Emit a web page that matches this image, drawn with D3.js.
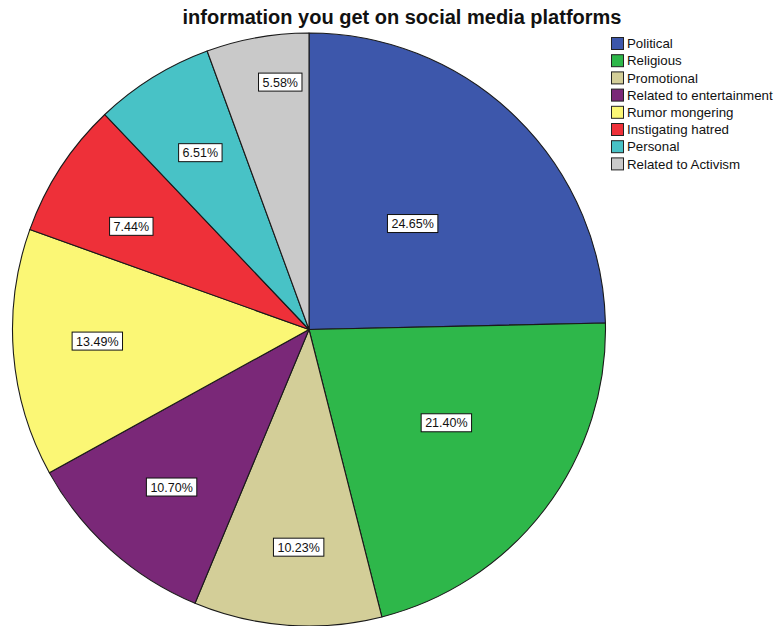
<!DOCTYPE html>
<html>
<head>
<meta charset="utf-8">
<script src="https://cdn.jsdelivr.net/npm/d3@7"></script>
<style>
  html, body { margin: 0; padding: 0; background: #fff; }
  svg { display: block; font-family: Arial, "Liberation Sans", sans-serif; }
</style>
</head>
<body>
<svg id="chart" width="777" height="626"></svg>
<script>
// Share of each information type (percent)
const categories = ["Political", "Religious", "Promotional", "Related to entertainment",
  "Rumor mongering", "Instigating hatred", "Personal", "Related to Activism"];
const percents = [24.65, 21.40, 10.23, 10.70, 13.49, 7.44, 6.51, 5.58];
const colors = ["#3d57ab", "#2eb74a", "#d3ce98", "#7a2878", "#fbf775", "#ee3039", "#48c2c6", "#c9c9c9"];
// placement of each percentage box: distance out (fraction of radius)
// and position across the slice (0 = start edge, 1 = end edge)
const labelRadius = [0.50, 0.56, 0.735, 0.705, 0.715, 0.693, 0.70, 0.84];
const labelSpan = [0.50, 0.46, 0.46, 0.48, 0.53, 0.39, 0.51, 0.67];
const title = "information you get on social media platforms";

const svg = d3.select("#chart");
const cx = 309, cy = 329.5, R = 296.5;

svg.append("text")
  .attr("x", 402).attr("y", 24)
  .attr("text-anchor", "middle")
  .attr("font-weight", "bold")
  .attr("font-size", 20)
  .attr("fill", "#111")
  .text(title);

const data = categories.map((c, i) => ({
  cat: c, value: percents[i], color: colors[i], lr: labelRadius[i], ls: labelSpan[i]
}));

const pie = d3.pie().sort(null).value(d => d.value);
const arcs = pie(data);
const arc = d3.arc().innerRadius(0).outerRadius(R);

const g = svg.append("g").attr("transform", `translate(${cx},${cy})`);

g.selectAll("path.slice")
  .data(arcs)
  .join("path")
  .attr("class", "slice")
  .attr("d", arc)
  .attr("fill", d => d.data.color)
  .attr("stroke", "#1a1a1a")
  .attr("stroke-width", 1.1)
  .attr("stroke-linejoin", "round");

// percentage boxes
const labels = g.selectAll("g.lbl")
  .data(arcs)
  .join("g")
  .attr("class", "lbl")
  .attr("transform", d => {
    const a = d.startAngle + (d.endAngle - d.startAngle) * d.data.ls;
    const r = R * d.data.lr;
    return `translate(${r * Math.sin(a)},${-r * Math.cos(a)})`;
  });

labels.each(function(d) {
  const sel = d3.select(this);
  const t = sel.append("text")
    .attr("text-anchor", "middle")
    .attr("dy", "0.36em")
    .attr("font-size", 12.5)
    .attr("fill", "#111")
    .text(d.data.value.toFixed(2) + "%");
  const w = t.node().getComputedTextLength() + 8;
  sel.insert("rect", "text")
    .attr("x", -w / 2).attr("y", -9)
    .attr("width", w).attr("height", 18)
    .attr("fill", "#fff")
    .attr("stroke", "#111")
    .attr("stroke-width", 1);
});

// legend
const legend = svg.append("g").attr("transform", "translate(611,37)");
const row = 17.2;
const items = legend.selectAll("g")
  .data(data)
  .join("g")
  .attr("transform", (d, i) => `translate(0,${i * row})`);
items.append("rect")
  .attr("x", 0.5).attr("y", 0.5)
  .attr("width", 12).attr("height", 12)
  .attr("fill", d => d.color)
  .attr("stroke", "#222")
  .attr("stroke-width", 1);
items.append("text")
  .attr("x", 16).attr("y", 6.5)
  .attr("dy", "0.36em")
  .attr("font-size", 13.3)
  .attr("fill", "#111")
  .text(d => d.cat);
</script>
</body>
</html>
